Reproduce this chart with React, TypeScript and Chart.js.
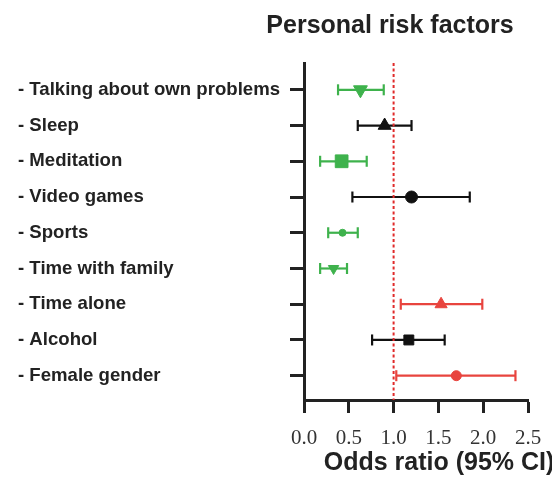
import { useEffect, useRef } from 'react';
import { Chart, registerables } from 'chart.js';

Chart.register(...registerables);

// ---- data ----
const categories = [
  '- Talking about own problems',
  '- Sleep',
  '- Meditation',
  '- Video games',
  '- Sports',
  '- Time with family',
  '- Time alone',
  '- Alcohol',
  '- Female gender',
];
const oddsRatio = [0.63, 0.9, 0.42, 1.2, 0.43, 0.33, 1.53, 1.17, 1.7];
const ciLow = [0.38, 0.6, 0.18, 0.54, 0.27, 0.18, 1.08, 0.76, 1.03];
const ciHigh = [0.89, 1.2, 0.7, 1.85, 0.6, 0.48, 1.99, 1.57, 2.36];
const groups = ['protective', 'neutral', 'protective', 'neutral', 'protective', 'protective', 'risk', 'neutral', 'risk'];
const xTickValues = [0, 0.5, 1, 1.5, 2, 2.5];
const xTickLabels = ['0.0', '0.5', '1.0', '1.5', '2.0', '2.5'];
const referenceValue = 1;
const titleText = 'Personal risk factors';
const xAxisTitle = 'Odds ratio (95% CI)';

// ---- styles ----
const groupColors: Record<string, string> = {
  protective: '#3eb24c',
  neutral: '#111111',
  risk: '#e8443e',
};
const markerShapes = ['triangle', 'triangle', 'rect', 'circle', 'circle', 'triangle', 'triangle', 'rect', 'circle'];
const markerRotation = [180, 0, 0, 0, 0, 180, 0, 0, 0];
const markerRadius = [8, 7.5, 9, 6, 3.5, 6, 7, 7, 5];
const Y_MIN = 0.25;
const Y_MAX = 9.68;

const titlePlugin = {
  id: 'customTitles',
  afterDraw(chart: any) {
    const { ctx, chartArea } = chart;
    ctx.save();
    ctx.fillStyle = '#222';
    ctx.textAlign = 'center';
    ctx.textBaseline = 'alphabetic';
    ctx.font = 'bold 25px "Liberation Sans", Arial, sans-serif';
    ctx.fillText(titleText, chartArea.left + 86, chartArea.top - 30);
    ctx.fillText(xAxisTitle, chartArea.left + 135, chartArea.bottom + 70);
    ctx.restore();
  },
};

export default function App() {
  const ref = useRef<HTMLCanvasElement>(null);

  useEffect(() => {
    const canvas = ref.current;
    if (!canvas) return;
    const rowY = categories.map((_, i) => i + 1);
    const colors = groups.map((g) => groupColors[g]);

    const whiskers = categories.map((c, i) => ({
      label: c + ' CI',
      data: [
        { x: ciLow[i], y: rowY[i] },
        { x: ciHigh[i], y: rowY[i] },
      ],
      showLine: true,
      borderColor: colors[i],
      borderWidth: 2.2,
      pointStyle: 'line',
      pointRotation: 90,
      pointRadius: 5.5,
      pointHoverRadius: 5.5,
      pointBorderWidth: 2.2,
      pointBorderColor: colors[i],
      order: 2,
    }));

    const refLine = {
      label: 'reference',
      data: [
        { x: referenceValue, y: Y_MIN },
        { x: referenceValue, y: Y_MAX },
      ],
      showLine: true,
      borderColor: '#e02a2a',
      borderWidth: 2,
      borderDash: [3, 2.5],
      pointRadius: 0,
      pointHoverRadius: 0,
      order: 1,
    };

    const markers = {
      label: 'odds ratio',
      data: oddsRatio.map((v, i) => ({ x: v, y: rowY[i] })),
      pointStyle: markerShapes,
      rotation: markerRotation,
      pointRadius: markerRadius,
      pointHoverRadius: markerRadius,
      backgroundColor: colors,
      borderColor: colors,
      borderWidth: 1,
      order: 0,
    };

    const chart = new Chart(canvas, {
      type: 'scatter',
      data: { datasets: [...whiskers, refLine, markers] as any },
      options: {
        animation: false,
        responsive: true,
        maintainAspectRatio: false,
        layout: { padding: { left: 18, top: 63, right: 24, bottom: 0 } },
        plugins: { legend: { display: false }, tooltip: { enabled: false }, title: { display: false } },
        scales: {
          x: {
            type: 'linear',
            min: 0,
            max: 2.5,
            afterBuildTicks: (s: any) => {
              s.ticks = xTickValues.map((v) => ({ value: v }));
            },
            afterFit: (s: any) => {
              s.height = 82;
              s.paddingLeft = 0;
              s.paddingRight = 0;
            },
            ticks: {
              callback: (_v: any, idx: number) => xTickLabels[idx],
              font: { family: '"Liberation Serif", "Times New Roman", serif', size: 21 },
              color: '#333',
              padding: 13,
              maxRotation: 0,
              autoSkip: false,
            },
            grid: { drawOnChartArea: false, drawTicks: true, tickLength: 13, tickWidth: 3, tickColor: '#222' },
            border: { display: true, width: 3, color: '#222' },
          },
          y: {
            type: 'linear',
            reverse: true,
            min: Y_MIN,
            max: Y_MAX,
            afterBuildTicks: (s: any) => {
              s.ticks = rowY.map((v) => ({ value: v }));
            },
            afterFit: (s: any) => {
              s.width = 286;
            },
            ticks: {
              callback: (_v: any, idx: number) => categories[idx],
              crossAlign: 'far',
              font: { family: '"Liberation Sans", Arial, sans-serif', size: 18.6, weight: 'bold' },
              color: '#222',
              autoSkip: false,
            },
            grid: { drawOnChartArea: false, drawTicks: true, tickLength: 14, tickWidth: 3, tickColor: '#222' },
            border: { display: true, width: 3, color: '#222' },
          },
        },
      } as any,
      plugins: [titlePlugin],
    });
    return () => chart.destroy();
  }, []);

  return (
    <div style={{ position: 'absolute', left: 0, top: 0, width: 552, height: 482, background: '#fff' }}>
      <canvas ref={ref} />
    </div>
  );
}
